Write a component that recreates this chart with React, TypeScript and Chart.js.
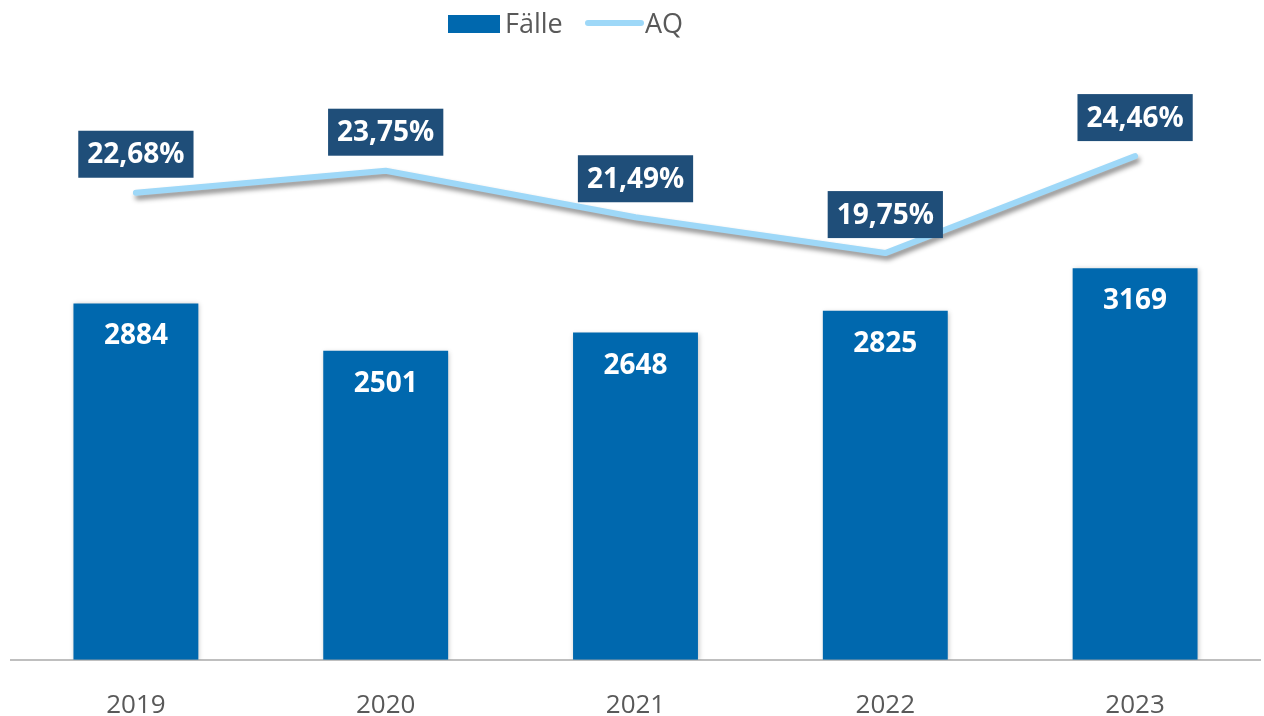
import React, { useEffect, useRef } from "react";
import { Chart, registerables } from "chart.js";

Chart.register(...registerables);

const categories = ["2019", "2020", "2021", "2022", "2023"];
const faelle = [2884, 2501, 2648, 2825, 3169];
const aq = [22.68, 23.75, 21.49, 19.75, 24.46];
const aqLabels = ["22,68%", "23,75%", "21,49%", "19,75%", "24,46%"];

const BAR_COLOR = "#0068ae";
const LINE_COLOR = "#9ed8f8";
const BOX_COLOR = "#1f4e79";
const TEXT_GREY = "#595959";
const FONT = "'Open Sans', 'DejaVu Sans', sans-serif";

const shadowPlugin = {
  id: "shadows",
  beforeDatasetDraw(chart: any, args: any) {
    const ctx = chart.ctx;
    ctx.save();
    if (args.meta.type === "line") {
      ctx.shadowColor = "rgba(0,0,0,0.45)";
      ctx.shadowBlur = 5;
      ctx.shadowOffsetX = 2;
      ctx.shadowOffsetY = 4;
    } else {
      ctx.shadowColor = "rgba(0,0,0,0.25)";
      ctx.shadowBlur = 5;
      ctx.shadowOffsetX = 1;
      ctx.shadowOffsetY = 1;
    }
  },
  afterDatasetDraw(chart: any) {
    chart.ctx.restore();
  },
};

const labelsPlugin = {
  id: "valueLabels",
  afterDatasetsDraw(chart: any) {
    const ctx = chart.ctx;
    ctx.save();
    const barMeta = chart.getDatasetMeta(1);
    ctx.font = `bold 28px ${FONT}`;
    ctx.fillStyle = "#ffffff";
    ctx.textAlign = "center";
    ctx.textBaseline = "middle";
    barMeta.data.forEach((el: any, i: number) => {
      ctx.fillText(String(faelle[i]), el.x, el.y + 33);
    });
    const lineMeta = chart.getDatasetMeta(0);
    lineMeta.data.forEach((el: any, i: number) => {
      const txt = aqLabels[i];
      const w = ctx.measureText(txt).width + 18;
      const h = 47;
      const bottom = el.y - 15;
      ctx.fillStyle = BOX_COLOR;
      ctx.fillRect(el.x - w / 2, bottom - h, w, h);
      ctx.fillStyle = "#ffffff";
      ctx.fillText(txt, el.x, bottom - h / 2 + 1);
    });
    ctx.restore();
  },
};

const legendPlugin = {
  id: "customLegend",
  afterDraw(chart: any) {
    const ctx = chart.ctx;
    ctx.save();
    ctx.fillStyle = BAR_COLOR;
    ctx.fillRect(448, 15, 52, 18);
    ctx.font = `27px ${FONT}`;
    ctx.fillStyle = TEXT_GREY;
    ctx.textAlign = "left";
    ctx.textBaseline = "middle";
    ctx.fillText("Fälle", 505, 25);
    ctx.strokeStyle = LINE_COLOR;
    ctx.lineWidth = 6;
    ctx.lineCap = "round";
    ctx.beginPath();
    ctx.moveTo(588, 23);
    ctx.lineTo(641, 23);
    ctx.stroke();
    ctx.fillStyle = TEXT_GREY;
    ctx.fillText("AQ", 645, 25);
    ctx.restore();
  },
};

export default function App() {
  const ref = useRef<HTMLCanvasElement>(null);
  useEffect(() => {
    if (!ref.current) return;
    const chart = new Chart(ref.current, {
      type: "bar",
      data: {
        labels: categories,
        datasets: [
          {
            type: "line",
            label: "AQ",
            data: aq,
            yAxisID: "y1",
            borderColor: LINE_COLOR,
            backgroundColor: LINE_COLOR,
            borderWidth: 6,
            pointRadius: 0,
            tension: 0,
            borderCapStyle: "round",
            borderJoinStyle: "round",
            order: 0,
          } as any,
          {
            type: "bar",
            label: "Fälle",
            data: faelle,
            yAxisID: "y",
            backgroundColor: BAR_COLOR,
            barPercentage: 0.5,
            categoryPercentage: 1,
            order: 1,
          },
        ],
      },
      plugins: [shadowPlugin, labelsPlugin, legendPlugin],
      options: {
        animation: false,
        responsive: false,
        layout: { padding: { top: 42, left: 11, right: 4, bottom: 0 } },
        plugins: {
          legend: { display: false },
          tooltip: { enabled: false },
        },
        scales: {
          x: {
            grid: { display: false, drawTicks: false },
            border: { display: true, color: "#bfbfbf", width: 2 },
            ticks: {
              color: TEXT_GREY,
              font: { family: FONT, size: 26 },
              padding: 30,
            },
          },
          y: { display: false, min: 0, max: 5000 },
          y1: { display: false, min: 0, max: 30 },
        },
      },
    });
    return () => chart.destroy();
  }, []);
  return (
    <div style={{ position: "fixed", left: 0, top: 0, width: 1264, height: 716, overflow: "hidden", background: "#fff" }}>
      <canvas ref={ref} width={1264} height={751} style={{ width: 1264, height: 751, display: "block" }} />
    </div>
  );
}
